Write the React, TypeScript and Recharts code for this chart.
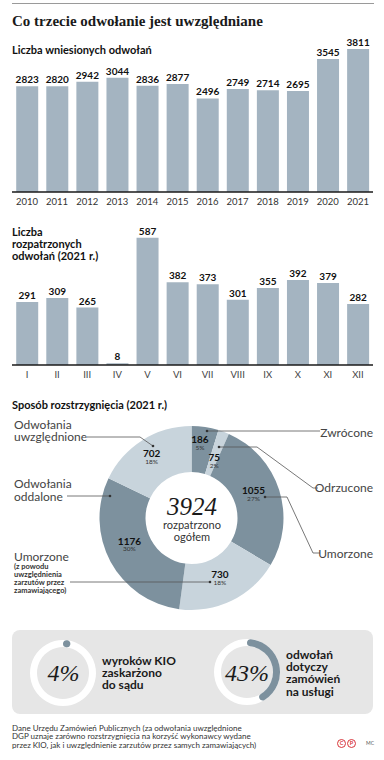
import { BarChart, Bar, XAxis, YAxis, LabelList, PieChart, Pie, Cell } from "recharts";

const years = ["2010", "2011", "2012", "2013", "2014", "2015", "2016", "2017", "2018", "2019", "2020", "2021"];
const filed = [2823, 2820, 2942, 3044, 2836, 2877, 2496, 2749, 2714, 2695, 3545, 3811];

const months = ["I", "II", "III", "IV", "V", "VI", "VII", "VIII", "IX", "X", "XI", "XII"];
const reviewed = [291, 309, 265, 8, 587, 382, 373, 301, 355, 392, 379, 282];

const outcomeNames = ["Zwrócone", "Odrzucone", "Umorzone", "Umorzone (zamawiający)", "Odwołania oddalone", "Odwołania uwzględnione"];
const outcomeValues = [186, 75, 1055, 730, 1176, 702];
const outcomePercents = ["5%", "2%", "27%", "18%", "30%", "18%"];
const outcomeTotal = 3924;

const appealedShare = 4;
const servicesShare = 43;

const filedData = years.map((year, i) => ({ year, value: filed[i] }));
const reviewedData = months.map((m, i) => ({ m, value: reviewed[i] }));
const outcomeData = outcomeNames.map((name, i) => ({ name, value: outcomeValues[i], pct: outcomePercents[i] }));

const SANS = "Lato, 'Open Sans', sans-serif";
const SERIF = "'Liberation Serif', serif";
const BAR = "#a4b4c1";
const DARK = "#7d919e";
const LIGHT = "#c8d4dc";

type TxtProps = {
  x: number;
  y: number;
  lines: string[];
  size: number;
  lh?: number;
  weight?: number;
  color?: string;
  align?: "left" | "right" | "center";
  family?: string;
  italic?: boolean;
};

const Txt = ({ x, y, lines, size, lh, weight = 400, color = "#222", align = "left", family = SANS, italic = false }: TxtProps) => {
  const h = lh ?? size * 1.2;
  return (
    <div
      style={{
        position: "absolute",
        left: align === "right" ? undefined : x,
        right: align === "right" ? 384 - x : undefined,
        top: y - h / 2,
        transform: align === "center" ? "translateX(-50%)" : undefined,
        fontSize: size,
        lineHeight: `${h}px`,
        fontWeight: weight,
        color,
        fontFamily: family,
        fontStyle: italic ? "italic" : "normal",
        whiteSpace: "nowrap",
        textAlign: align,
      }}
    >
      {lines.map((l, i) => (
        <div key={i}>{l}</div>
      ))}
    </div>
  );
};

const RADIAN = Math.PI / 180;
// label distance from the centre and angle nudge, per slice
const LABEL_R = [79, 65, 68, 63, 66, 76];
const LABEL_NUDGE = [2.4, 0, 6.6, 1, -8.4, -0.6];

const renderOutcomeLabel = (props: any) => {
  const { cx, cy, midAngle, index, value } = props;
  const r = LABEL_R[index] ?? 68;
  const a = (midAngle + (LABEL_NUDGE[index] ?? 0)) * RADIAN;
  const x = cx + r * Math.cos(-a);
  const y = cy + r * Math.sin(-a);
  return (
    <g key={`lbl-${index}`}>
      <text x={x} y={y} textAnchor="middle" dominantBaseline="central" fontFamily={SANS} fontWeight={700} fontSize={10} fill="#111">
        {value}
      </text>
      <text x={x} y={y + 8} textAnchor="middle" dominantBaseline="central" fontFamily={SANS} fontSize={6.5} fill="#333">
        {outcomePercents[index]}
      </text>
    </g>
  );
};

const Ring = ({ share, left, top }: { share: number; left: number; top: number }) => (
  <div style={{ position: "absolute", left, top }}>
    <PieChart width={80} height={80} margin={{ top: 0, right: 0, bottom: 0, left: 0 }}>
      <Pie data={[{ v: 1 }]} dataKey="v" cx={40} cy={40} innerRadius={26} outerRadius={33} fill="#fff" stroke="none" isAnimationActive={false} />
      <Pie
        data={[{ v: share }, { v: 100 - share }]}
        dataKey="v"
        cx={40}
        cy={40}
        innerRadius={26}
        outerRadius={33}
        startAngle={90}
        endAngle={-270}
        cornerRadius={3.5}
        stroke="none"
        isAnimationActive={false}
      >
        <Cell fill={DARK} />
        <Cell fill="transparent" />
      </Pie>
    </PieChart>
  </div>
);

export default function App() {
  return (
    <div
      style={{
        position: "absolute",
        left: 0,
        top: 0,
        width: 384,
        height: 760,
        background: "#fff",
        overflow: "hidden",
        fontFamily: SANS,
      }}
    >
      <div style={{ position: "absolute", left: 12, top: 3, width: 362, height: 1, background: "#9a9a9a" }} />
      <Txt x={12} y={21} lines={["Co trzecie odwołanie jest uwzględniane"]} size={15} weight={700} family={SERIF} color="#1a1a1a" />

      {/* wniesione odwołania */}
      <div style={{ position: "absolute", left: 0, top: 0 }}>
        <BarChart width={384} height={212} data={filedData} margin={{ top: 42, right: 11, bottom: 0, left: 12 }} barCategoryGap="14%">
          <YAxis hide domain={[0, 4000]} />
          <XAxis
            dataKey="year"
            interval={0}
            height={20}
            tickLine={false}
            tickSize={4}
            axisLine={{ stroke: "#1a1a1a", strokeWidth: 1.3 }}
            tick={{ fill: "#333", fontSize: 9.5, fontFamily: SANS }}
          />
          <Bar dataKey="value" fill={BAR} isAnimationActive={false}>
            <LabelList dataKey="value" position="top" offset={3} style={{ fill: "#111", fontSize: 10, fontWeight: 700, fontFamily: SANS }} />
          </Bar>
        </BarChart>
      </div>
      <Txt x={12} y={49.5} lines={["Liczba wniesionych odwołań"]} size={11} weight={700} color="#111" />

      {/* rozpatrzone odwołania */}
      <div style={{ position: "absolute", left: 0, top: 200 }}>
        <BarChart width={384} height={185} data={reviewedData} margin={{ top: 35, right: 11, bottom: 0, left: 12 }} barCategoryGap="14%">
          <YAxis hide domain={[0, 600]} />
          <XAxis
            dataKey="m"
            interval={0}
            height={20}
            tickLine={false}
            tickSize={4}
            axisLine={{ stroke: "#1a1a1a", strokeWidth: 1.3 }}
            tick={{ fill: "#444", fontSize: 9.5, fontFamily: SANS }}
          />
          <Bar dataKey="value" fill={BAR} isAnimationActive={false}>
            <LabelList dataKey="value" position="top" offset={3} style={{ fill: "#111", fontSize: 10, fontWeight: 700, fontFamily: SANS }} />
          </Bar>
        </BarChart>
      </div>
      <Txt x={12} y={232} lines={["Liczba", "rozpatrzonych", "odwołań (2021 r.)"]} size={11} lh={12.3} weight={700} color="#111" />

      {/* sposób rozstrzygnięcia */}
      <Txt x={12} y={405} lines={["Sposób rozstrzygnięcia (2021 r.)"]} size={11} weight={700} color="#111" />
      <div style={{ position: "absolute", left: 0, top: 420 }}>
        <PieChart width={384} height={200} margin={{ top: 0, right: 0, bottom: 0, left: 0 }}>
          <Pie
            data={outcomeData}
            dataKey="value"
            cx={191.5}
            cy={98}
            innerRadius={46}
            outerRadius={92}
            startAngle={90}
            endAngle={-270}
            stroke="none"
            labelLine={false}
            label={renderOutcomeLabel}
            isAnimationActive={false}
          >
            {outcomeData.map((_, i) => (
              <Cell key={i} fill={i % 2 === 0 ? DARK : LIGHT} />
            ))}
          </Pie>
        </PieChart>
      </div>

      <svg style={{ position: "absolute", left: 0, top: 0, pointerEvents: "none" }} width={384} height={760}>
        <g stroke="#555" strokeWidth={0.8} fill="none">
          <polyline points="87,437 140,437 153,446" />
          <polyline points="207,431 320,431" />
          <polyline points="219,447 257,447 313,488 318,488" />
          <polyline points="265,497 287,497 313,553 320,553" />
          <polyline points="67,496 110,496" />
          <polyline points="70,582 210,582" />
        </g>
        <g fill="#333">
          <circle cx={153} cy={446} r={1.3} />
          <circle cx={207} cy={431} r={1.3} />
          <circle cx={219} cy={447} r={1.3} />
          <circle cx={265} cy={497} r={1.3} />
          <circle cx={110} cy={496} r={1.3} />
          <circle cx={210} cy={582} r={1.3} />
        </g>
      </svg>

      <Txt x={14} y={425} lines={["Odwołania", "uwzględnione"]} size={12} lh={12} color="#444" />
      <Txt x={14} y={483} lines={["Odwołania", "oddalone"]} size={12} lh={13} color="#444" />
      <Txt x={14} y={557} lines={["Umorzone"]} size={12} lh={10} color="#444" />
      <Txt x={14} y={567} lines={["(z powodu", "uwzględnienia", "zarzutów przez", "zamawiającego)"]} size={7.5} lh={8.1} weight={700} color="#333" />
      <Txt x={373} y={433} lines={["Zwrócone"]} size={12} align="right" color="#444" />
      <Txt x={373} y={488} lines={["Odrzucone"]} size={12} align="right" color="#444" />
      <Txt x={373} y={554} lines={["Umorzone"]} size={12} align="right" color="#444" />

      <Txt x={192} y={507} lines={[String(outcomeTotal)]} size={25} italic family={SERIF} align="center" color="#1a1a1a" />
      <Txt x={192} y={525} lines={["rozpatrzono"]} size={11} lh={12} align="center" color="#333" />
      <Txt x={192} y={537} lines={["ogółem"]} size={11} lh={12} align="center" color="#333" />

      {/* ramka z procentami */}
      <div style={{ position: "absolute", left: 12, top: 630, width: 361, height: 84, borderRadius: 8, background: "#e6e6e6" }} />
      <Ring share={appealedShare} left={23} top={632.5} />
      <Ring share={servicesShare} left={207} top={632} />
      <Txt x={63.5} y={673} lines={[`${appealedShare}%`]} size={24} italic family={SERIF} align="center" color="#1a1a1a" />
      <Txt x={247} y={673} lines={[`${servicesShare}%`]} size={24} italic family={SERIF} align="center" color="#1a1a1a" />
      <Txt x={102} y={661} lines={["wyroków KIO", "zaskarżono", "do sądu"]} size={12} lh={12.2} weight={700} color="#1a1a1a" />
      <Txt x={286} y={655} lines={["odwołań", "dotyczy", "zamówień", "na usługi"]} size={12} lh={12.2} weight={700} color="#1a1a1a" />

      <Txt
        x={12}
        y={728}
        lines={[
          "Dane Urzędu Zamówień Publicznych (za odwołania uwzględnione",
          "DGP uznaje zarówno rozstrzygnięcia na korzyść wykonawcy wydane",
          "przez KIO, jak i uwzględnienie zarzutów przez samych zamawiających)",
        ]}
        size={8}
        lh={8.6}
        color="#333"
      />
      {["C", "P"].map((ch, i) => (
        <div
          key={ch}
          style={{
            position: "absolute",
            left: 337 + i * 10,
            top: 739,
            width: 7,
            height: 7,
            borderRadius: "50%",
            border: "1.2px solid #d8353b",
            color: "#d8353b",
            fontSize: 5.5,
            fontWeight: 700,
            lineHeight: "7px",
            textAlign: "center",
            fontFamily: SANS,
          }}
        >
          {ch}
        </div>
      ))}
      <Txt x={366} y={743} lines={["MC"]} size={5} color="#555" />
    </div>
  );
}
